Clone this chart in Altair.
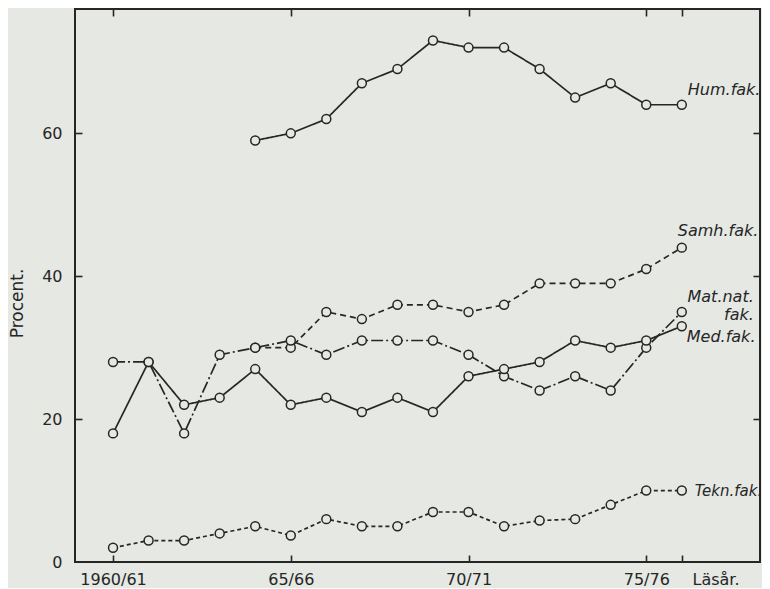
import altair as alt
import pandas as pd

# ---------------- data ----------------
years = list(range(1960, 1977))
hum_years = list(range(1964, 1977))
hum = [59, 60, 62, 67, 69, 73, 72, 72, 69, 65, 67, 64, 64]
samh_years = list(range(1964, 1977))
samh = [30, 30, 35, 34, 36, 36, 35, 36, 39, 39, 39, 41, 44]
matnat = [28, 28, 18, 29, 30, 31, 29, 31, 31, 31, 29, 26, 24, 26, 24, 30, 35]
med = [18, 28, 22, 23, 27, 22, 23, 21, 23, 21, 26, 27, 28, 31, 30, 31, 33]
tekn = [2, 3, 3, 4, 5, 3.7, 6, 5, 5, 7, 7, 5, 5.8, 6, 8, 10, 10]

series_names = ["Hum", "Samh", "Mat", "Med", "Tekn"]
x_tick_years = [1960, 1965, 1970, 1975]
x_tick_labels = ["1960/61", "65/66", "70/71", "75/76"]
x_tick_marks = [1960, 1965, 1970, 1975, 1976]
y_label_ticks = [0, 20, 40, 60]
y_tick_marks = [20, 40, 60]

# ---------------- table ----------------
rows = []
for s, ys, vs in [("Hum", hum_years, hum), ("Samh", samh_years, samh),
                  ("Mat", years, matnat), ("Med", years, med), ("Tekn", years, tekn)]:
    for y, v in zip(ys, vs):
        rows.append({"year": y, "value": v, "series": s})
df = pd.DataFrame(rows)

BG = "#e5e8e3"
INK = "#262626"
FONT = "DejaVu Sans"
W, H = 685, 553

xs = alt.Scale(domain=[1958.93, 1978.2], nice=False, zero=False)
ysc = alt.Scale(domain=[0, 77.4], nice=False, zero=False)

label_expr = " : ".join(
    f"datum.value == {y} ? '{l}'" for y, l in zip(x_tick_years, x_tick_labels)
) + " : ''"

dash = alt.StrokeDash(
    "series:N",
    scale=alt.Scale(domain=series_names,
                    range=[[1, 0], [6, 4], [12, 3, 2, 3], [1, 0], [4, 3]]),
    legend=None,
)

lines = alt.Chart(df).mark_line(color=INK, strokeWidth=1.7).encode(
    x=alt.X("year:Q", scale=xs,
            axis=alt.Axis(values=x_tick_years, labelExpr=label_expr, ticks=False, tickSize=0,
                          domain=False, grid=False, labelPadding=22, labelBaseline="alphabetic",
                          labelFontSize=16, labelFont=FONT, labelColor=INK,
                          title="Läsår.", titleFont=FONT, titleFontSize=16, titleFontWeight="normal",
                          titleColor=INK, titleX=617, titleY=22, titleAlign="left",
                          titleBaseline="alphabetic")),
    y=alt.Y("value:Q", scale=ysc,
            axis=alt.Axis(values=y_label_ticks, ticks=False, tickSize=0, domain=False, grid=False,
                          labelPadding=13, labelFontSize=16, labelFont=FONT, labelColor=INK,
                          title="Procent.", titleFont=FONT, titleFontSize=17,
                          titleFontWeight="normal", titleColor=INK, titleX=-53, titleY=294,
                          titleAlign="center", titleBaseline="alphabetic", titleAngle=270)),
    strokeDash=dash,
    detail="series:N",
)

tick_common = dict(labels=False, domain=False, grid=False, title=None,
                   ticks=True, tickSize=7, tickColor=INK, tickWidth=1.6)

points = alt.Chart(df).mark_point(shape="circle", size=80, filled=False, fill=BG,
                                  fillOpacity=1, stroke=INK, strokeWidth=1.5, opacity=1).encode(
    x=alt.X("year:Q", scale=xs,
            axis=alt.Axis(orient="top", offset=-H, values=x_tick_marks, **tick_common)),
    y=alt.Y("value:Q", scale=ysc,
            axis=alt.Axis(orient="right", offset=-W, values=y_tick_marks, **tick_common)),
    detail="series:N",
)


def last_point(ys, vs):
    return pd.DataFrame({"year": [ys[-1]], "value": [vs[-1]]})


def label(text, ys, vs, dx, dy, align="left", size=16, axes=False):
    if axes:
        xa = alt.Axis(orient="bottom", offset=-H, values=x_tick_marks, **tick_common)
        ya = alt.Axis(orient="left", offset=-W, values=y_tick_marks, **tick_common)
    else:
        xa = None
        ya = None
    return alt.Chart(last_point(ys, vs)).mark_text(
        text=text, align=align, baseline="middle", dx=dx, dy=dy, font=FONT,
        fontSize=size, fontStyle="italic", color=INK,
    ).encode(
        x=alt.X("year:Q", scale=xs, axis=xa),
        y=alt.Y("value:Q", scale=ysc, axis=ya),
    )


labels = [
    label("Hum.fak.", hum_years, hum, 6, -15, axes=True),
    label("Samh.fak.", samh_years, samh, -4, -17),
    label("Mat.nat.", years, matnat, 72, -15, align="right"),
    label("fak.", years, matnat, 72, 3, align="right"),
    label("Med.fak.", years, med, 5, 11),
    label("Tekn.fak.", years, tekn, 13, 0, size=15),
]

chart = alt.layer(lines, points, *labels).resolve_axis(
    x="independent", y="independent"
).properties(
    width=W, height=H,
    background=BG,
    autosize=alt.AutoSizeParams(type="none"),
    padding={"left": 67, "top": 1, "right": 2, "bottom": 26},
).configure_view(
    stroke=INK, strokeWidth=2, fill=BG
)

chart.save("out.html", embed_options={"renderer": "svg", "actions": False})
